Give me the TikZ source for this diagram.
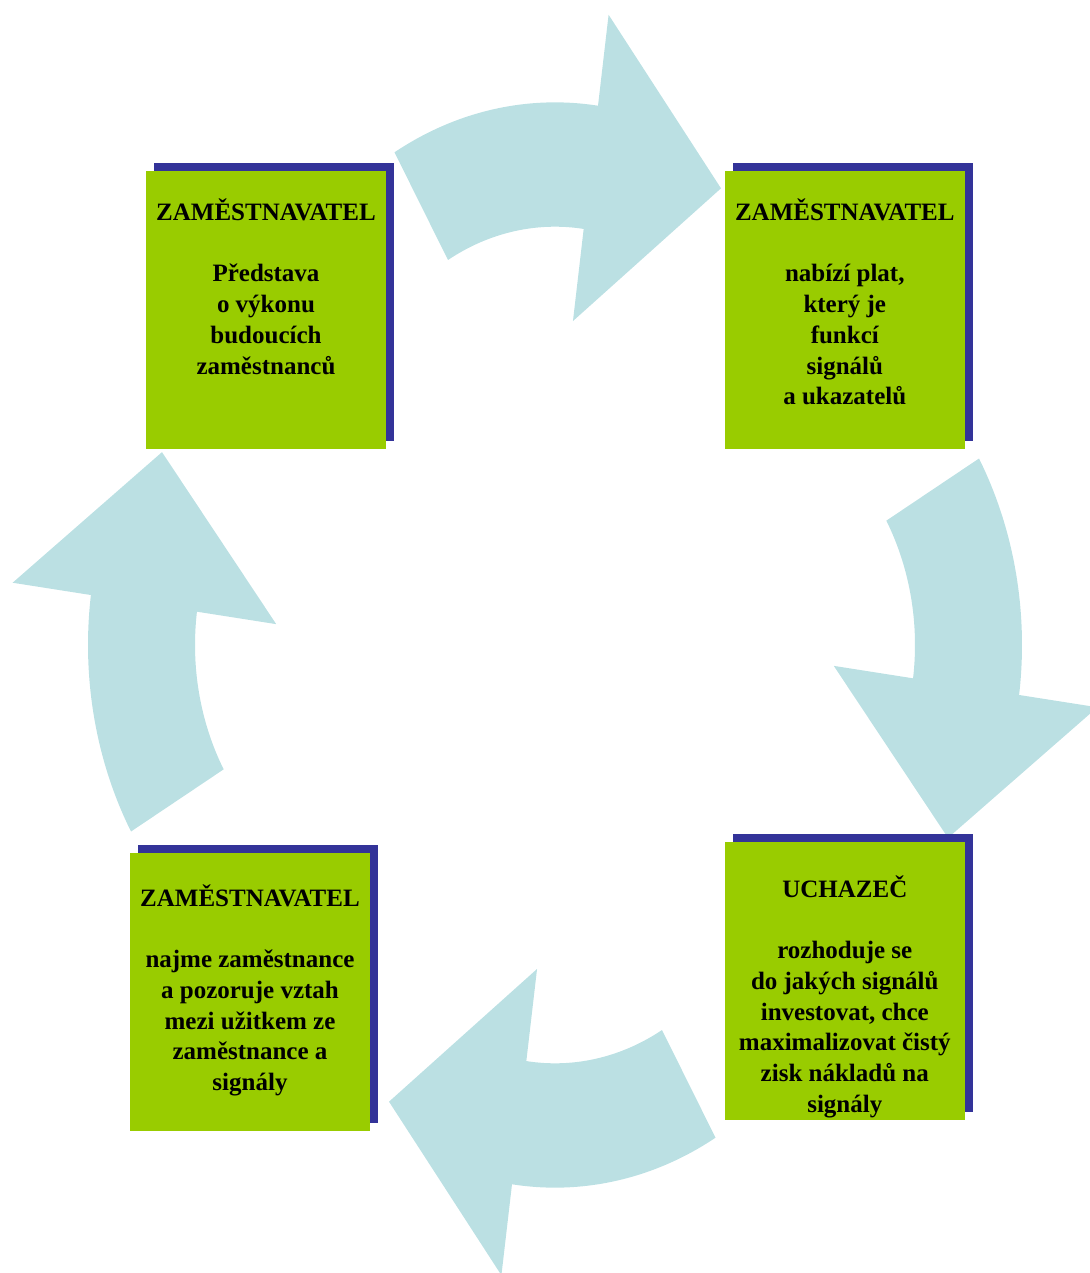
\documentclass[tikz,border=0pt]{standalone}
\usepackage{fontspec}
\setmainfont{Liberation Serif}
\usepackage{tikz}
\usetikzlibrary{calc}
\usetikzlibrary{positioning}
\usetikzlibrary{shadows}
\definecolor{zelena}{HTML}{99CC00}
\definecolor{modra}{HTML}{333399}
\definecolor{svetlemodra}{HTML}{BBE0E3}
\newcommand{\nadpis}[1]{\rule{0pt}{12pt}#1\\[15pt]}
\tikzset{
	ramecek/.style={
		rectangle,
		fill=zelena,
		drop shadow={shadow xshift=4pt, shadow yshift=4pt, fill=modra, opacity=1},
		minimum width=120pt,
		minimum height=139pt,
		inner sep=0pt},
	popis/.style={
		align=center,
		inner sep=0pt,
		font=\fontsize{12.5pt}{15.4pt}\selectfont\bfseries},
	sipka/.style={fill=svetlemodra, draw=none},
}
\begin{document}
\begin{tikzpicture}
	[x=0.5pt, y=-0.5pt]
	\useasboundingbox (0,0) rectangle (1089,1273);
	% four curved arrows, one shape turned round the middle
	\begin{scope}[shift={(555,645)}, yscale=1.162]
		\foreach \otoc in {0,-90,-180,-270}
			\fill[sipka, rotate=\otoc, shift={(0,-146)}]
				(-120:321) arc[start angle=-120, end angle=-82.3, radius=321]
				-- (-82.3:400) -- (-56.1:297.6) -- (-82.3:134) -- (-82.3:214)
				arc[start angle=-82.3, end angle=-120, radius=214] -- cycle;
	\end{scope}
	\node[ramecek] (jedna) at (266,310) {};
	\node[ramecek, right=169pt of jedna] (dva) {};
	\node[ramecek, below=196pt of dva] (tri) {};
	\node[ramecek, left=177pt of tri, yshift=-5.5pt] (ctyri) {};
	\node[popis, below=12.9pt of jedna.north] (jedna popis)
		{\nadpis{ZAMĚSTNAVATEL}Představa\\o výkonu\\budoucích\\zaměstnanců};
	\node[popis, below=12.9pt of dva.north] (dva popis)
		{\nadpis{ZAMĚSTNAVATEL}nabízí plat,\\který je\\funkcí\\signálů\\a ukazatelů};
	\node[popis, below=15.9pt of tri.north] (tri popis)
		{\nadpis{UCHAZEČ}rozhoduje se\\do jakých signálů\\investovat, chce\\maximalizovat čistý\\zisk nákladů na\\signály};
	\node[popis, below=14.9pt of ctyri.north] (ctyri popis)
		{\nadpis{ZAMĚSTNAVATEL}najme zaměstnance\\a pozoruje vztah\\mezi užitkem ze\\zaměstnance a\\signály};
\end{tikzpicture}
\end{document}
